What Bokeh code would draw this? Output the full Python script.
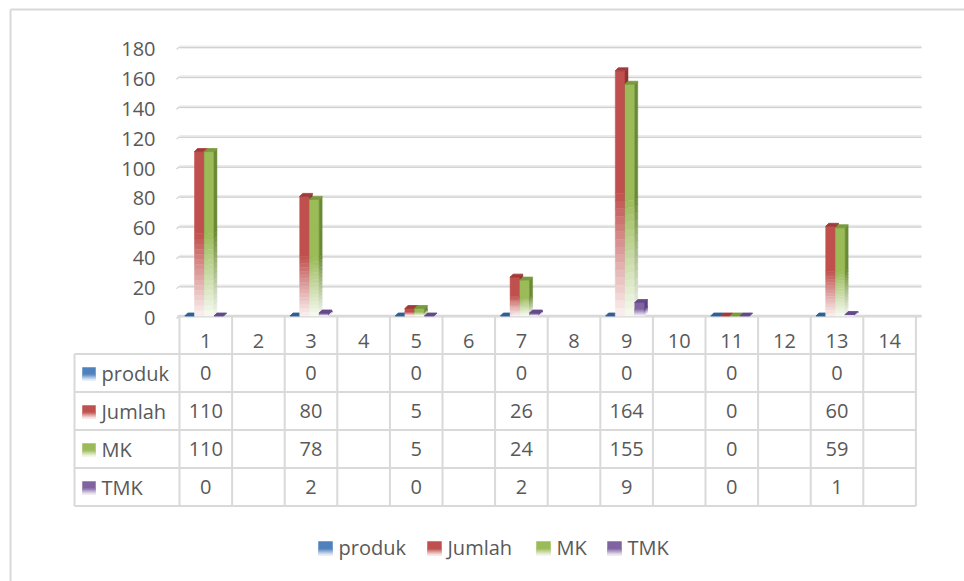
from bokeh.plotting import figure
from bokeh.models import Range1d
from bokeh.core.properties import value
from bokeh.embed import file_html
from bokeh.resources import INLINE

# ---------------- data ----------------
categories = list(range(1, 15))
cat_labels = [str(c) for c in categories]
series_names = ["produk", "Jumlah", "MK", "TMK"]
produk = [0, None, 0, None, 0, None, 0, None, 0, None, 0, None, 0, None]
jumlah = [110, None, 80, None, 5, None, 26, None, 164, None, 0, None, 60, None]
mk = [110, None, 78, None, 5, None, 24, None, 155, None, 0, None, 59, None]
tmk = [0, None, 2, None, 0, None, 2, None, 9, None, 0, None, 1, None]
series_values = [produk, jumlah, mk, tmk]
y_ticks = [0, 20, 40, 60, 80, 100, 120, 140, 160, 180]

# ---------------- styles ----------------
base_colors = ["#4F81BD", "#C0504D", "#9BBB59", "#8064A2"]
top_colors = ["#2F5F96", "#A23B38", "#7A9A3C", "#65498A"]
side_colors = ["#37638F", "#8E3432", "#6B8A35", "#5A4080"]
FONT = "Open Sans"
FS = "20px"
TXT = "#595959"
LINE = "#D9D9D9"

W, H = 964, 581
PX0, PY0 = 0, 0            # page offset of the canvas
SX = 52.6                  # px per category
SY = 1.495                 # px per value unit
CAT1_PX = 205.3            # page x of category 1
ZERO_PY = 315.5            # page y of value 0

x_start = 1 - (CAT1_PX - PX0) / SX
x_end = x_start + W / SX
y_end = (ZERO_PY - PY0) / SY
y_start = y_end - H / SY

p = figure(width=W, height=H, x_range=Range1d(x_start, x_end),
           y_range=Range1d(y_start, y_end), output_backend="svg",
           toolbar_location=None, min_border=0, x_axis_type=None,
           y_axis_type=None)
p.outline_line_color = None
p.background_fill_color = "white"
p.border_fill_color = "white"
p.extra_x_ranges = {"px": Range1d(PX0, PX0 + W)}
p.extra_y_ranges = {"px": Range1d(PY0 + H, PY0)}

# chart border (left and top visible)
p.segment(x0=[10, 10], y0=[9, 9], x1=[10, PX0 + W + 5], y1=[PY0 + H + 5, 9],
          line_color=LINE, line_width=2, x_range_name="px", y_range_name="px")

# ---------------- gridlines ----------------
gx0 = 0.5
gx1 = 1 + (921 - CAT1_PX) / SX
p.segment(x0=gx0, x1=gx1, y0=y_ticks, y1=y_ticks, line_color="#EBEBEB", line_width=3)
p.segment(x0=gx0, x1=gx1, y0=[t - 0.5 for t in y_ticks], y1=[t - 0.5 for t in y_ticks],
          line_color="#CDCDCD", line_width=1)
p.segment(x0=gx0, x1=gx0 - 3 / SX, y0=y_ticks, y1=[t - 2.5 / SY for t in y_ticks],
          line_color="#D0D0D0", line_width=1.2)

# y tick labels
p.text(x=155, y=[ZERO_PY - t * SY + 2 for t in y_ticks], text=[str(t) for t in y_ticks],
       text_font=value(FONT), text_font_size=FS, text_color=TXT,
       text_align="right", text_baseline="middle", x_range_name="px", y_range_name="px")

# ---------------- data table ----------------
row_px = [316, 353.5, 391.5, 429.5, 467.5, 505.5]
left_px = 74
right_px = CAT1_PX + 13.5 * SX
col_edges = [c - 0.5 for c in categories] + [categories[-1] + 0.5]
col_edges_px = [CAT1_PX + (c - 1) * SX for c in col_edges]
p.segment(x0=col_edges_px, x1=col_edges_px, y0=row_px[0], y1=row_px[-1],
          line_color=LINE, line_width=2, x_range_name="px", y_range_name="px")
p.segment(x0=left_px, x1=left_px, y0=row_px[1], y1=row_px[-1],
          line_color=LINE, line_width=2, x_range_name="px", y_range_name="px")
p.segment(x0=[left_px] * 5, x1=[right_px] * 5, y0=row_px[1:], y1=row_px[1:],
          line_color=LINE, line_width=2, x_range_name="px", y_range_name="px")
# floor line
p.segment(x0=col_edges_px[0] - 2, x1=CAT1_PX + (gx1 - 1) * SX, y0=row_px[0] - 0.5,
          y1=row_px[0] - 0.5, line_color=LINE, line_width=2, x_range_name="px", y_range_name="px")

# header numbers
p.text(x=categories, y=340, text=cat_labels, text_font=value(FONT), text_font_size=FS,
       text_color=TXT, text_align="center", text_baseline="middle", y_range_name="px")


def blend(c, t):
    r, g, b = int(c[1:3], 16), int(c[3:5], 16), int(c[5:7], 16)
    r = round(255 + (r - 255) * t)
    g = round(255 + (g - 255) * t)
    b = round(255 + (b - 255) * t)
    return "#%02X%02X%02X" % (r, g, b)


def key_square(xl, yc, color, size=13):
    n = 6
    ls, rs, bs, ts, cs = [], [], [], [], []
    solid = size * 0.55
    ls.append(xl); rs.append(xl + size); ts.append(yc - size / 2); bs.append(yc - size / 2 + solid)
    cs.append(color)
    step = (size - solid) / n
    for i in range(n):
        t = 1 - (i + 0.5) / n * 0.9
        ls.append(xl); rs.append(xl + size)
        ts.append(yc - size / 2 + solid + i * step)
        bs.append(yc - size / 2 + solid + (i + 1) * step)
        cs.append(blend(color, t))
    p.quad(left=ls, right=rs, top=ts, bottom=bs, fill_color=cs, line_color=cs, line_width=0.5,
           x_range_name="px", y_range_name="px")


for i, name in enumerate(series_names):
    yc = (row_px[i + 1] + row_px[i + 2]) / 2
    key_square(82, yc + 1, base_colors[i])
    p.text(x=101, y=yc, text=[name], text_font=value(FONT), text_font_size=FS,
           text_color=TXT, text_align="left", text_baseline="middle",
           x_range_name="px", y_range_name="px")
    vals = series_values[i]
    xs = [c for c, v in zip(categories, vals) if v is not None]
    ts_ = [str(v) for v in vals if v is not None]
    p.text(x=xs, y=yc, text=ts_, text_font=value(FONT), text_font_size=FS,
           text_color=TXT, text_align="center", text_baseline="middle", y_range_name="px")

# ---------------- bars ----------------
GROUP_START = -0.40
SLOT = 0.185
DX = 3 / SX
DY = 3 / SY
FADE = 0.5
NSL = 16

for j, vals in enumerate(series_values):
    fl, fr, fb, ft, fc = [], [], [], [], []
    sx_, sy_, sc = [], [], []
    tx, ty = [], []
    for c, v in zip(categories, vals):
        if v is None:
            continue
        x0 = c + GROUP_START + j * SLOT
        x1 = x0 + SLOT
        if v > 0:
            cut = v * FADE
            fl.append(x0); fr.append(x1); fb.append(cut); ft.append(v); fc.append(base_colors[j])
            sx_.append([x1, x1 + DX, x1 + DX, x1]); sy_.append([cut, cut + DY, v + DY, v])
            sc.append(side_colors[j])
            step = cut / NSL
            for k in range(NSL):
                top = cut - k * step
                bot = cut - (k + 1) * step
                t = 1 - (k + 0.5) / NSL * 0.92
                fl.append(x0); fr.append(x1); fb.append(bot); ft.append(top)
                fc.append(blend(base_colors[j], t))
                sx_.append([x1, x1 + DX, x1 + DX, x1]); sy_.append([bot, bot + DY, top + DY, top])
                sc.append(blend(side_colors[j], t))
        tx.append([x0, x1, x1 + DX, x0 + DX])
        ty.append([v, v, v + DY, v + DY])
    if fl:
        p.quad(left=fl, right=fr, bottom=fb, top=ft, fill_color=fc, line_color=fc, line_width=0.5)
        p.patches(xs=sx_, ys=sy_, fill_color=sc, line_color=sc, line_width=0.5)
    p.patches(xs=tx, ys=ty, fill_color=top_colors[j], line_color=top_colors[j], line_width=0.8)

# ---------------- legend ----------------
legend_x = [318, 427, 536, 607]
for i, name in enumerate(series_names):
    key_square(legend_x[i], 548, base_colors[i], size=14)
    p.text(x=legend_x[i] + 20, y=547, text=[name], text_font=value(FONT), text_font_size=FS,
           text_color=TXT, text_align="left", text_baseline="middle",
           x_range_name="px", y_range_name="px")

open("out.html", "w").write(file_html(p, INLINE))
